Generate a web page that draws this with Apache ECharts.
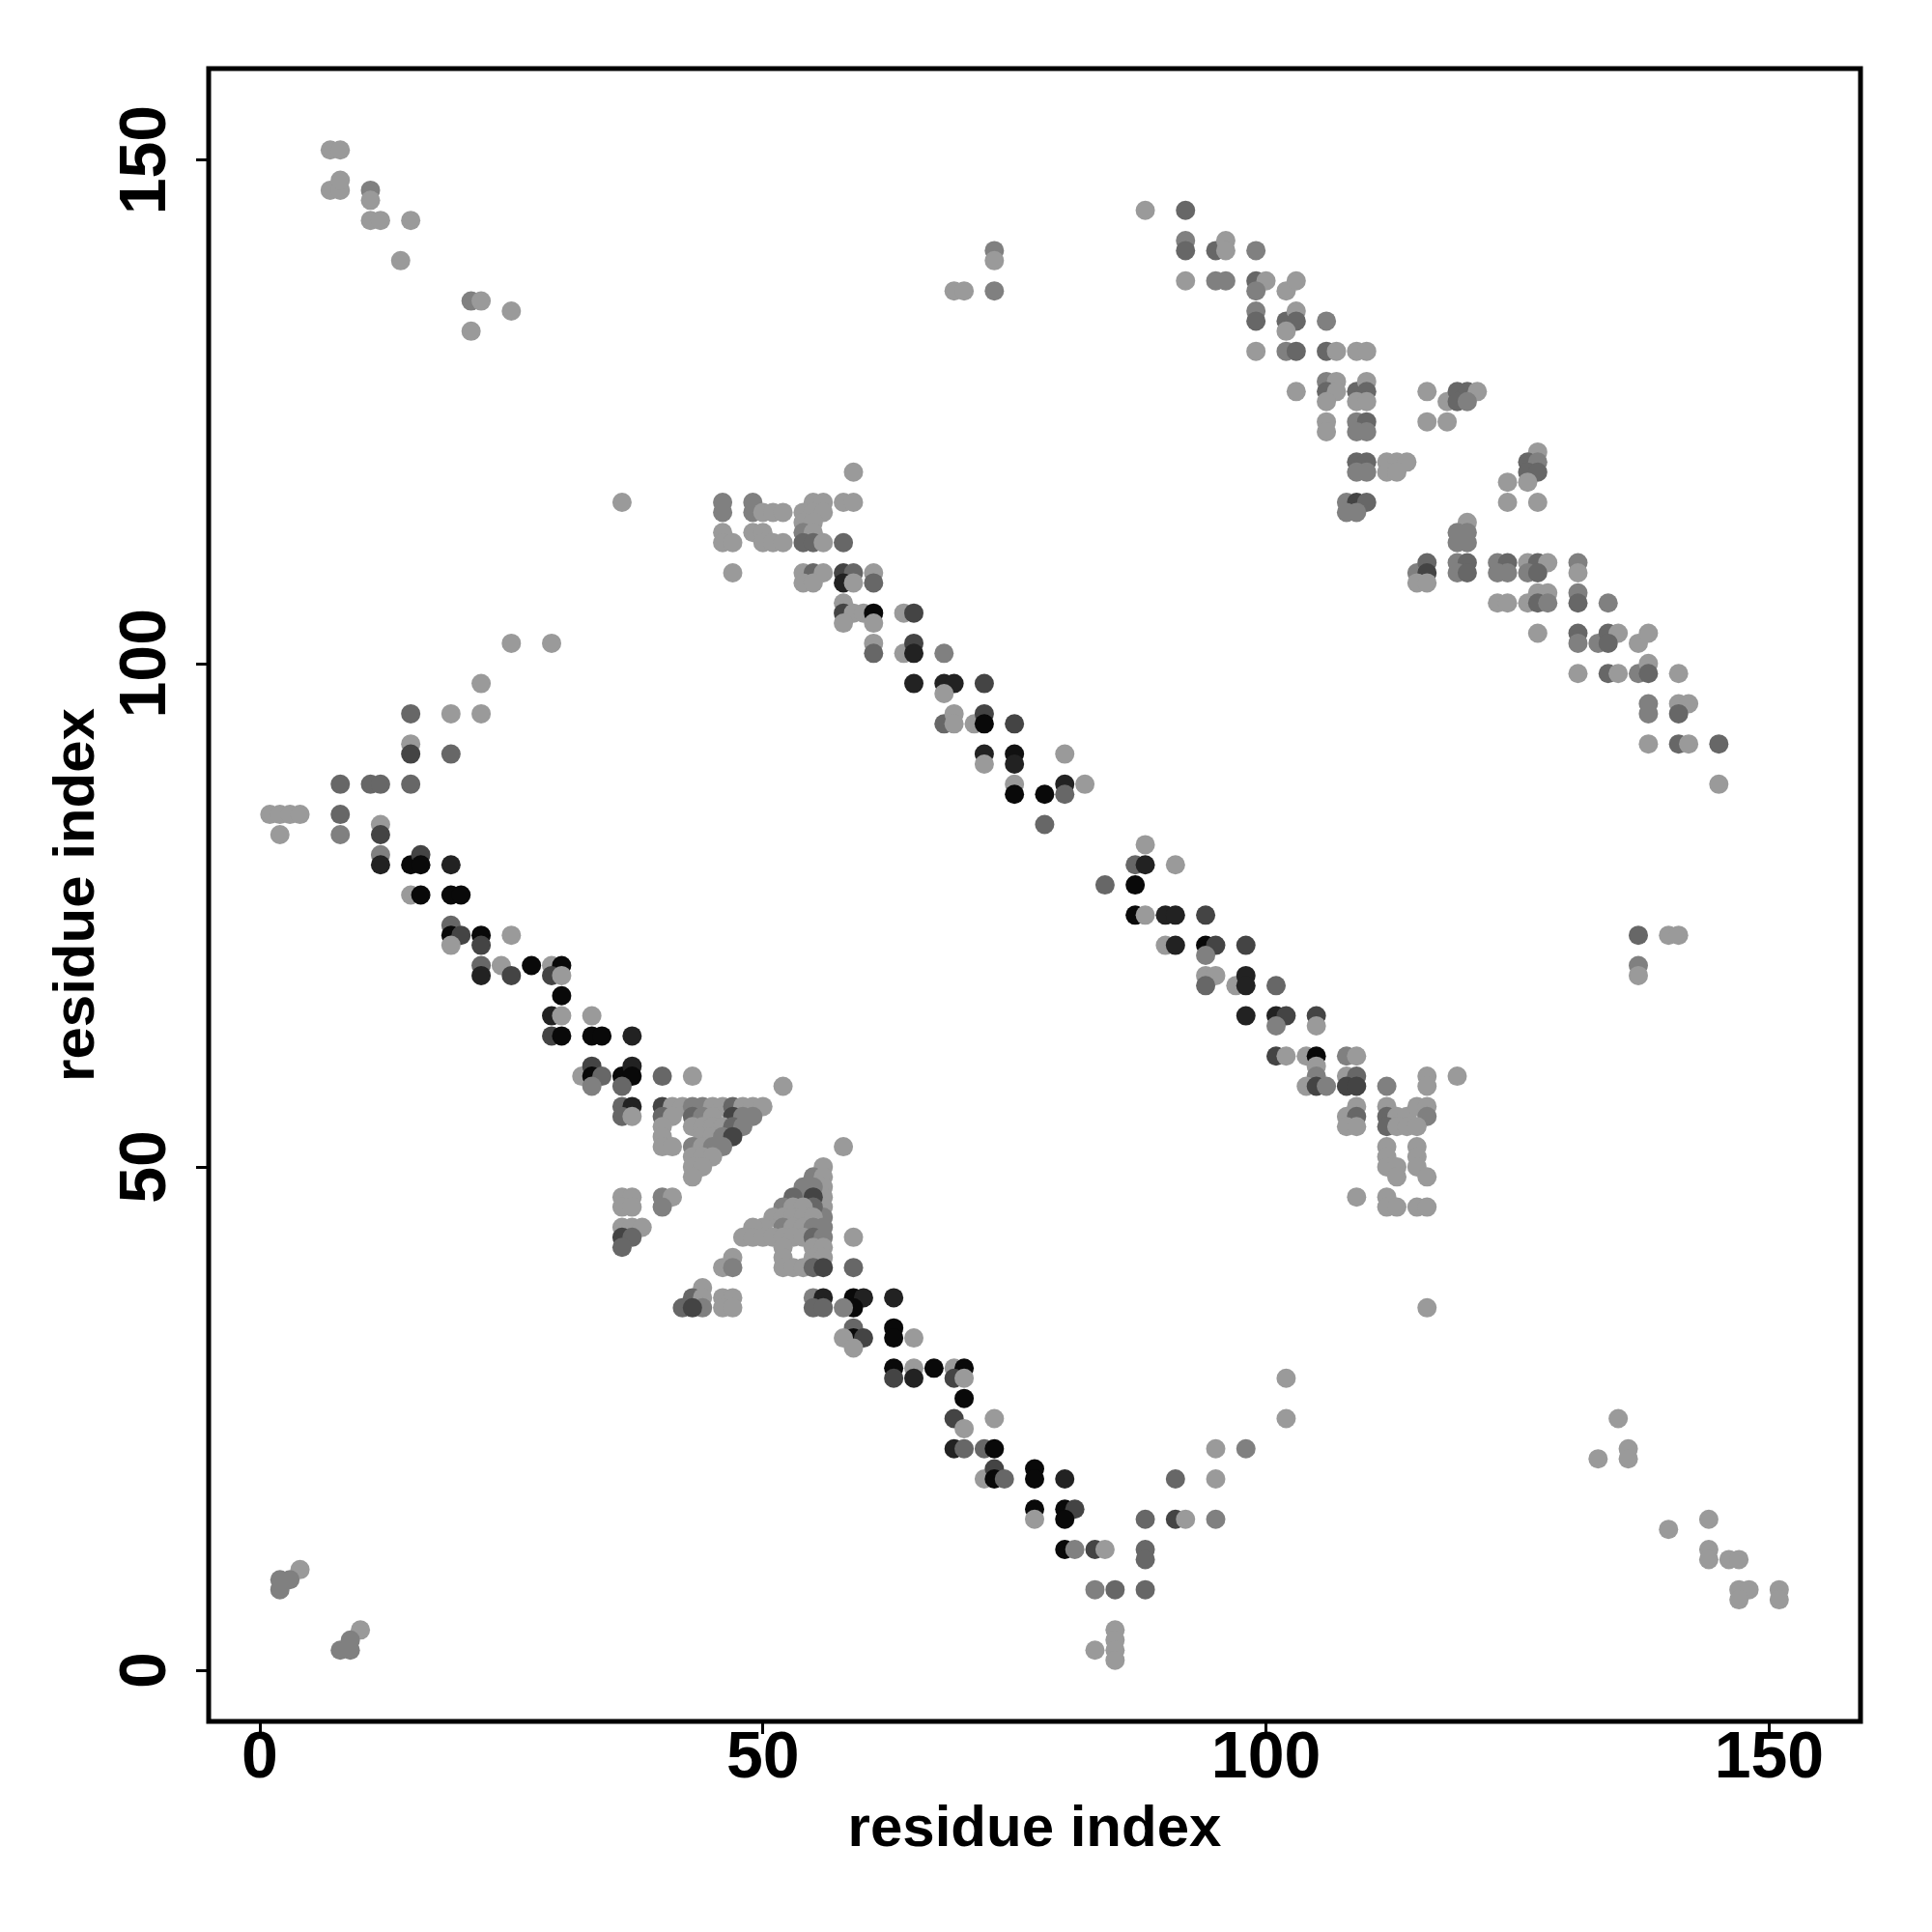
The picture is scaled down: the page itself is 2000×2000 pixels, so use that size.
<!DOCTYPE html>
<html>
<head>
<meta charset="utf-8">
<script src="https://cdn.jsdelivr.net/npm/echarts@6/dist/echarts.min.js"></script>
<style>
html,body{margin:0;padding:0;background:#fff;}
#chart{width:2000px;height:2000px;}
</style>
</head>
<body>
<div id="chart"></div>
<script>
// each entry: [residue i, residue j, contact probability]
const contactsUpperLeft = [
[7,151,.1],[8,151,.1],[7,147,.1],[8,147,.1],[8,148,.1],[11,147,.25],[11,146,.1],[11,144,.1],[12,144,.1],[15,144,.1],[14,140,.1],[21,136,.25],[22,136,.1],[25,135,.1],[21,133,.1],[36,116,.1],[47,109,.1]
];
const contactsUpperMiddle = [
[73,141,.25],[73,140,.1],[69,137,.1],[70,137,.1],[73,137,.25],[59,119,.1],
[46,116,.25],[46,115,.25],[49,116,.25],[49,115,.25],[50,115,.1],[51,115,.1],[52,115,.1],
[55,116,.1],[56,116,.1],[54,115,.1],[55,115,.1],[56,115,.1],[54,114,.1],[55,114,.1],[54,113,.25],[55,113,.1],[54,112,.4],[55,112,.4],[56,112,.1],
[58,116,.1],[59,116,.1],[58,112,.4],
[46,113,.1],[46,112,.1],[47,112,.1],[49,113,.1],[50,113,.1],[50,112,.1],[51,112,.1],[52,112,.1],
[54,109,.1],[55,109,.4],[56,109,.1],[54,108,.1],[55,108,.1],
[58,109,.6],[59,109,.4],[58,108,.8],[59,108,.1],[61,109,.1],[61,108,.4],
[58,106,.1],[58,105,.6],[59,105,.1],[60,105,.1],[61,105,.95],[64,105,.1],[65,105,.6],
[58,104,.1],[61,104,.1],[61,102,.1],[61,101,.4],[64,101,.1],[65,102,.6],[65,101,.8],[68,101,.25],
[65,98,.8],[68,98,.8],[69,98,.8],[68,97,.1],[72,98,.6],
[68,94,.4],[69,95,.1],[69,94,.1],[71,94,.1],[72,95,.6],[72,94,.95],[75,94,.6],
[72,91,.8],[72,90,.1],[75,91,.9],[75,90,.8],[75,88,.1],[75,87,.95],[78,87,.95],[78,84,.4]
];
const contactsUpperRight = [
[88,145,.1],[92,145,.4],[92,142,.25],[92,141,.4],[95,141,.4],[96,142,.1],[96,141,.1],[99,141,.25],
[92,138,.1],[95,138,.25],[96,138,.25],[99,138,.4],[100,138,.1],[99,137,.25],[102,137,.1],[103,138,.1],
[99,135,.25],[99,134,.4],[102,134,.4],[103,135,.1],[103,134,.4],[102,133,.1],[106,134,.25],
[99,131,.1],[102,131,.25],[103,131,.4],[106,131,.4],[107,131,.1],[109,131,.1],[110,131,.1],
[103,127,.1],[106,128,.25],[107,128,.1],[106,127,.4],[107,127,.1],[106,126,.1],[109,127,.4],[110,128,.1],[110,127,.4],[109,126,.1],[110,126,.1],
[106,124,.1],[106,123,.1],[109,124,.25],[110,124,.4],[109,123,.25],[110,123,.25],[116,127,.1],[116,124,.1],
[109,120,.4],[110,120,.4],[109,119,.25],[110,119,.25],[112,120,.1],[113,120,.1],[114,120,.1],[112,119,.1],[113,119,.1],
[108,116,.25],[109,116,.6],[110,116,.4],[108,115,.25],[109,115,.25],
[115,109,.25],[116,110,.4],[116,109,.6],[115,108,.1],[116,108,.1],
[118,126,.1],[119,127,.4],[120,127,.4],[121,127,.1],[119,126,.4],[120,126,.25],[118,124,.1],
[127,121,.1],[126,120,.4],[127,120,.25],[126,119,.4],[127,119,.4],[124,118,.1],[126,118,.1],[124,116,.1],[127,116,.1],
[120,114,.1],[119,113,.25],[120,113,.25],[119,112,.25],[120,112,.25],
[119,110,.25],[120,110,.4],[119,109,.25],[120,109,.4],[123,110,.25],[124,110,.4],[123,109,.25],[124,109,.25],
[126,110,.1],[127,110,.4],[128,110,.1],[126,109,.25],[127,109,.4],[131,110,.25],[131,109,.1],
[123,106,.1],[124,106,.1],[126,106,.1],[127,107,.1],[128,107,.1],[127,106,.4],[128,106,.25],[131,107,.25],[131,106,.4],[134,106,.25],
[127,103,.1],[131,103,.4],[131,102,.25],[133,102,.25],[134,103,.4],[135,103,.1],[134,102,.4],[137,102,.1],[138,103,.1],
[131,99,.1],[134,99,.4],[135,99,.1],[137,99,.25],[138,100,.1],[138,99,.4],[141,99,.1],
[138,96,.25],[138,95,.25],[141,96,.1],[142,96,.1],[141,95,.4],
[138,92,.1],[141,92,.4],[142,92,.1],[145,92,.4],[145,88,.1],
[137,73,.4],[140,73,.1],[141,73,.1],[137,70,.25],[137,69,.1]
];
const contactsLeftBand = [
[25,102,.1],[29,102,.1],[22,98,.1],[15,95,.4],[19,95,.1],[22,95,.1],[15,92,.1],[15,91,.6],[19,91,.4],
[8,88,.4],[11,88,.4],[12,88,.4],[15,88,.4],[1,85,.1],[2,85,.1],[3,85,.1],[4,85,.1],[2,83,.1],[8,85,.4],[8,83,.25],
[12,84,.1],[12,83,.6],[12,81,.25],[12,80,.8],[15,80,.95],[16,81,.6],[16,80,.95],[19,80,.8],
[15,77,.1],[16,77,.95],[19,77,.95],[20,77,.95],[19,74,.4],[19,73,.95],[20,73,.6],[19,72,.1],[22,73,.95],[22,72,.6],[25,73,.1],
[22,70,.4],[22,69,.8],[24,70,.1],[25,69,.6],[27,70,.95],[29,70,.1],[30,70,.95],[29,69,.6],[30,69,.1],[30,67,.95],
[29,65,.8],[30,65,.1],[33,65,.1],[29,63,.6],[30,63,.95],[33,63,.95],[34,63,.95],[37,63,.8],
[32,59,.1],[33,60,.6],[33,59,.95],[34,59,.4],[33,58,.25],[36,59,.95],[37,60,.8],[37,59,.95],[36,58,.4],[40,59,.4],[43,59,.1],[52,58,.1],
[36,56,.4],[37,56,.8],[36,55,.4],[37,55,.1],
[40,56,.6],[41,56,.1],[42,56,.1],[43,56,.25],[44,56,.25],[45,56,.1],[46,56,.1],[47,56,.4],[48,56,.1],[49,56,.1],[50,56,.1],
[40,55,.4],[41,55,.1],[43,55,.4],[44,55,.25],[45,55,.1],[47,55,.6],[48,55,.25],[49,55,.25],
[40,54,.1],[43,54,.1],[44,54,.1],[45,54,.1],[46,54,.1],[47,54,.4],[48,54,.25],
[40,53,.1],[44,53,.1],[45,53,.1],[46,53,.25],[47,53,.6],
[40,52,.1],[41,52,.1],[43,52,.25],[44,52,.1],[45,52,.25],[46,52,.25],
[43,51,.1],[44,51,.1],[45,51,.1],[43,50,.1],[44,50,.1],[43,49,.1],
[36,47,.1],[37,47,.1],[36,46,.1],[37,46,.1],[40,47,.25],[41,47,.1],[40,46,.25],
[36,44,.1],[37,44,.1],[38,44,.1],[36,43,.6],[37,43,.4],[36,42,.4],
[58,52,.1],[56,50,.1],[55,49,.25],[56,49,.1],[56,48,.1],[56,47,.1],[56,46,.1],[56,45,.25],[55,48,.25],[54,48,.25],[54,47,.25],
[53,47,.4],[55,47,.6],[55,46,.4],[52,46,.25],[53,46,.1],[54,46,.1],[51,45,.1],[52,45,.1],[53,45,.1],[54,45,.1],[55,45,.1],
[50,44,.1],[49,44,.1],[52,44,.25],[53,44,.1],[54,44,.1],[55,44,.25],[56,44,.25],
[48,43,.1],[49,43,.1],[50,43,.1],[51,43,.1],[52,43,.1],[53,43,.1],[54,43,.1],[55,43,.4],[56,43,.25],
[52,42,.1],[55,42,.1],[56,42,.1],[52,41,.1],[55,41,.1],[56,41,.1],[52,40,.1],[53,40,.1],[54,40,.1],[55,40,.4],[56,40,.6],
[47,41,.1],[46,40,.1],[47,40,.25],[44,38,.1],[43,37,.4],[44,37,.1],[44,36,.25],[42,36,.4],[43,36,.6],
[46,37,.1],[47,37,.1],[46,36,.1],[47,36,.1]
];
const contactsCentralBand = [
[80,91,.1],[80,88,.8],[80,87,.4],[82,88,.1],[88,82,.1],[87,80,.4],[88,80,.8],[91,80,.1],[84,78,.4],[87,78,.95],
[87,75,.95],[88,75,.1],[90,75,.8],[91,75,.8],[94,75,.6],[90,72,.1],[91,72,.8],[94,72,.95],[95,72,.6],[94,71,.25],[98,72,.6],
[94,69,.1],[95,69,.1],[94,68,.4],[97,68,.1],[98,69,.8],[98,68,.8],[101,68,.4],
[98,65,.8],[101,65,.8],[102,65,.6],[101,64,.25],[105,65,.6],[105,64,.1],
[101,61,.6],[102,61,.1],[104,61,.1],[105,61,.95],[108,61,.25],[109,61,.1],
[105,60,.1],[105,59,.25],[104,58,.1],[105,58,.6],[106,58,.25],[108,59,.1],[109,59,.4],[108,58,.6],[109,58,.6],
[112,58,.25],[116,59,.1],[116,58,.1],[119,59,.1],
[109,56,.1],[108,55,.1],[109,55,.4],[108,54,.1],[109,54,.1],
[112,56,.1],[112,55,.4],[113,55,.1],[114,55,.1],[115,56,.1],[116,56,.1],[116,55,.25],[112,54,.4],[113,54,.1],[114,54,.1],[115,54,.1],
[112,52,.1],[112,51,.1],[112,50,.1],[113,50,.1],[115,52,.1],[115,51,.1],[115,50,.1],[113,49,.1],[116,49,.1],
[109,47,.1],[112,47,.1],[112,46,.1],[113,46,.1],[115,46,.1],[116,46,.1],[116,36,.1]
];
const contactsLowerBand = [
[59,43,.1],[59,40,.4],[55,37,.25],[56,37,.8],[55,36,.4],[56,36,.4],[59,37,.95],[60,37,.8],[59,36,.95],[58,36,.25],[63,37,.8],
[59,34,.4],[59,33,.95],[60,33,.6],[58,33,.1],[59,32,.1],[63,34,.95],[63,33,.95],[65,33,.1],
[63,30,.95],[63,29,.6],[65,30,.1],[65,29,.8],[67,30,.95],[69,30,.1],[70,30,.95],[69,29,.6],[70,29,.1],[70,27,.95],
[69,25,.6],[70,24,.1],[73,25,.1],[69,22,.8],[70,22,.4],[72,22,.4],[73,22,.95],
[72,19,.1],[73,20,.6],[73,19,.95],[74,19,.4],[77,20,.95],[77,19,.95],[77,16,.95],[77,15,.1],
[80,19,.8],[80,16,.95],[81,16,.6],[80,15,.95],[80,12,.95],[81,12,.25],[83,12,.6],[84,12,.1],
[88,15,.4],[91,19,.4],[91,15,.6],[92,15,.1],[95,22,.1],[98,22,.25],[95,19,.1],[95,15,.25],[102,29,.1],[102,25,.1],
[88,12,.4],[88,11,.4],[83,8,.25],[85,8,.4],[88,8,.4],[85,4,.1],[85,3,.1],[85,2,.1],[85,1,.1],[83,2,.1]
];
const contactsCorners = [
[4,10,.1],[2,9,.25],[3,9,.25],[2,8,.25],[10,4,.1],[9,3,.25],[8,2,.25],[9,2,.25],
[135,25,.1],[133,21,.1],[136,22,.1],[136,21,.1],[140,14,.1],[144,15,.1],[144,12,.1],[144,11,.1],
[146,11,.1],[147,11,.1],[147,8,.1],[148,8,.1],[147,7,.1],[151,8,.1],[151,7,.1]
];
const tickValues = [0, 50, 100, 150];
const axisTitle = 'residue index';

const allContacts = [].concat(contactsUpperLeft, contactsUpperMiddle, contactsUpperRight,
  contactsLeftBand, contactsCentralBand, contactsLowerBand, contactsCorners);

const FONT = '"Liberation Sans", Arial, Helvetica, sans-serif';
const chart = echarts.init(document.getElementById('chart'), null, {renderer: 'canvas'});
const axisCommon = {
  type: 'value',
  min: -5.08,
  max: 159.08,
  splitLine: {show: false},
  axisLine: {show: false, onZero: false},
  axisTick: {show: true, customValues: tickValues, length: 13, lineStyle: {color: '#000', width: 3}},
  name: axisTitle,
  nameLocation: 'middle',
  nameTextStyle: {fontSize: 60, fontWeight: 'bold', color: '#000', fontFamily: FONT}
};
chart.setOption({
  animation: false,
  backgroundColor: '#fff',
  grid: {left: 216, top: 71, width: 1710, height: 1711, show: true, borderColor: '#000', borderWidth: 5, backgroundColor: 'transparent'},
  xAxis: Object.assign({}, axisCommon, {
    nameGap: 82,
    axisLabel: {customValues: tickValues, fontSize: 68, fontWeight: 'bold', color: '#000', margin: 5, fontFamily: FONT}
  }),
  yAxis: Object.assign({}, axisCommon, {
    nameGap: 105,
    nameRotate: 90,
    axisLabel: {customValues: tickValues, fontSize: 68, fontWeight: 'bold', color: '#000', margin: 30, rotate: 90, fontFamily: FONT}
  }),
  visualMap: {show: false, type: 'continuous', dimension: 2, min: 0, max: 1, inRange: {color: ['#ababab', '#000000']}},
  series: [{
    type: 'scatter',
    data: allContacts,
    symbol: 'circle',
    symbolSize: 20,
    silent: true,
    progressive: 0,
    itemStyle: {opacity: 1}
  }]
});
</script>
</body>
</html>
